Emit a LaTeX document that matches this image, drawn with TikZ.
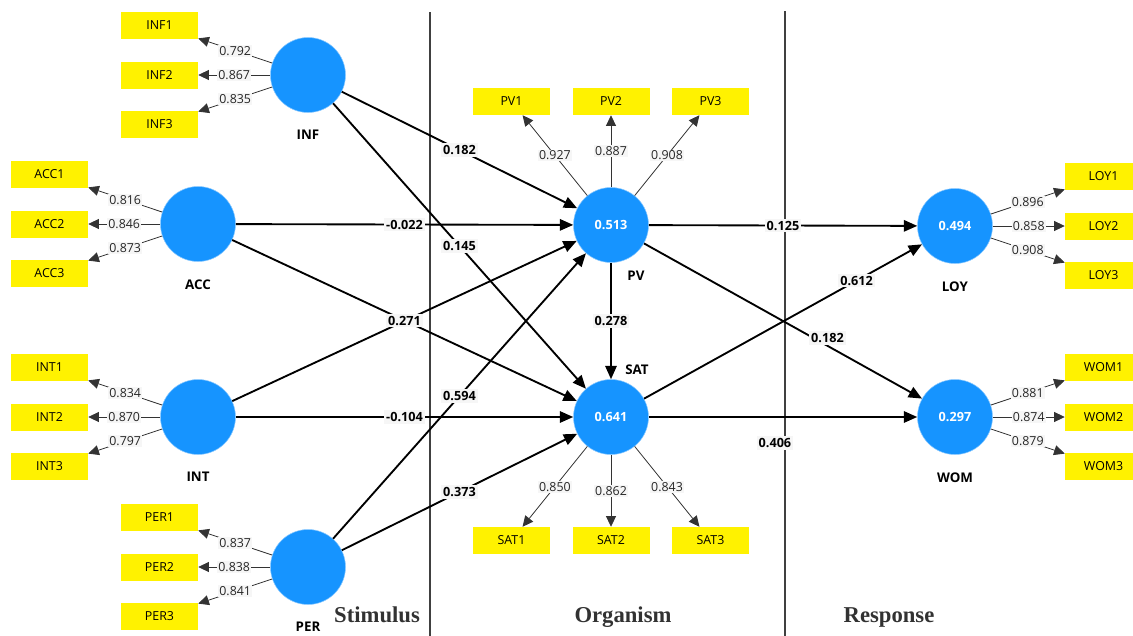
\documentclass[tikz,border=0pt]{standalone}
\usepackage{fontspec}
\setmainfont{Open Sans}
\newfontfamily\titlefont{Liberation Serif}
\usetikzlibrary{positioning,arrows.meta}
\definecolor{lvblue}{RGB}{22,148,255}
\definecolor{lblgray}{RGB}{246,246,246}
\definecolor{titlegray}{RGB}{50,50,50}

\begin{document}
\begin{tikzpicture}[x=0.75pt, y=-0.75pt, node distance=54pt,
	lv/.style = {circle, fill=lvblue, draw=lvblue!50!white, minimum size=56.25pt, inner sep=0pt, text=white, font=\bfseries\fontsize{9.5}{11}\selectfont},
	ind/.style = {fill=yellow, minimum width=57.75pt, minimum height=20.25pt, inner sep=0pt, font=\fontsize{9.3}{11}\selectfont},
	lvname/.style = {inner sep=0pt, font=\bfseries\fontsize{10}{12}\selectfont},
	coef/.style = {fill=lblgray, inner sep=1.5pt, font=\bfseries\fontsize{9.5}{11}\selectfont},
	lval/.style = {fill=lblgray, inner sep=1pt, text=black!85, font=\fontsize{9.3}{11}\selectfont},
	effect/.style = {line width=1.4pt, -{Triangle[length=10pt, width=8.5pt]}},
	loading/.style = {line width=0.6pt, draw=black!80, -{Triangle[length=8pt, width=7.5pt]}},
	sepline/.style = {line width=1pt, draw=black!75},
	sect/.style = {anchor=base, text=titlegray, font=\titlefont\bfseries\fontsize{17}{20}\selectfont}]
	\useasboundingbox (0,0) rectangle (1133,636);
	\clip (0,0) rectangle (1133,636);

	%% Stages
	\draw[sepline] (430,12) -- (430,636);
	\draw[sepline] (785,11) -- (785,636);
	\node[sect] (stim) at (377,622) {Stimulus};
	\node[sect] (orga) at (623,622) {Organism};
	\node[sect] (resp) at (889,622) {Response};

	%% Nodes
	\node[lv] (INF) at (308,75) {};
	\node[lv] (ACC) at (198,224) {};
	\node[lv] (INT) at (198,417) {};
	\node[lv] (PER) at (308,567) {};
	\node[lv] (PV) at (611,225) {0.513};
	\node[lv] (SAT) at (611,417) {0.641};
	\node[lv] (LOY) at (955,226) {0.494};
	\node[lv] (WOM) at (955,417) {0.297};

	\node[lvname][below=13pt of INF] (INFn) {INF};
	\node[lvname][below=13pt of ACC] (ACCn) {ACC};
	\node[lvname][below=13pt of INT] (INTn) {INT};
	\node[lvname][below=13pt of PER] (PERn) {PER};
	\node[lvname][below=13pt of LOY] (LOYn) {LOY};
	\node[lvname][below=13pt of WOM] (WOMn) {WOM};
	\node[lvname] (PVn) at (636,276) {PV};
	\node[lvname] (SATn) at (637,370) {SAT};

	\node[ind][left=of INF] (INF2) {INF2};
	\node[ind][above=16.5pt of INF2] (INF1) {INF1};
	\node[ind][below=16.5pt of INF2] (INF3) {INF3};

	\node[ind][left=of ACC] (ACC2) {ACC2};
	\node[ind][above=16.5pt of ACC2] (ACC1) {ACC1};
	\node[ind][below=16.5pt of ACC2] (ACC3) {ACC3};

	\node[ind][left=of INT] (INT2) {INT2};
	\node[ind][above=16.5pt of INT2] (INT1) {INT1};
	\node[ind][below=16.5pt of INT2] (INT3) {INT3};

	\node[ind][left=of PER] (PER2) {PER2};
	\node[ind][above=16.5pt of PER2] (PER1) {PER1};
	\node[ind][below=16.5pt of PER2] (PER3) {PER3};

	\node[ind][above=of PV] (PV2) {PV2};
	\node[ind][left=16.5pt of PV2] (PV1) {PV1};
	\node[ind][right=16.5pt of PV2] (PV3) {PV3};

	\node[ind][below=of SAT] (SAT2) {SAT2};
	\node[ind][left=16.5pt of SAT2] (SAT1) {SAT1};
	\node[ind][right=16.5pt of SAT2] (SAT3) {SAT3};

	\node[ind][right=of LOY] (LOY2) {LOY2};
	\node[ind][above=16.5pt of LOY2] (LOY1) {LOY1};
	\node[ind][below=16.5pt of LOY2] (LOY3) {LOY3};

	\node[ind][right=of WOM] (WOM2) {WOM2};
	\node[ind][above=16.5pt of WOM2] (WOM1) {WOM1};
	\node[ind][below=16.5pt of WOM2] (WOM3) {WOM3};

	%% Loadings
	\draw[loading] (INF) -- node[lval] {0.792} (INF1);
	\draw[loading] (INF) -- node[lval] {0.867} (INF2);
	\draw[loading] (INF) -- node[lval] {0.835} (INF3);
	\draw[loading] (ACC) -- node[lval] {0.816} (ACC1);
	\draw[loading] (ACC) -- node[lval] {0.846} (ACC2);
	\draw[loading] (ACC) -- node[lval] {0.873} (ACC3);
	\draw[loading] (INT) -- node[lval] {0.834} (INT1);
	\draw[loading] (INT) -- node[lval] {0.870} (INT2);
	\draw[loading] (INT) -- node[lval] {0.797} (INT3);
	\draw[loading] (PER) -- node[lval] {0.837} (PER1);
	\draw[loading] (PER) -- node[lval] {0.838} (PER2);
	\draw[loading] (PER) -- node[lval] {0.841} (PER3);
	\draw[loading] (PV) -- node[lval] {0.927} (PV1);
	\draw[loading] (PV) -- node[lval] {0.887} (PV2);
	\draw[loading] (PV) -- node[lval] {0.908} (PV3);
	\draw[loading] (SAT) -- node[lval] {0.850} (SAT1);
	\draw[loading] (SAT) -- node[lval] {0.862} (SAT2);
	\draw[loading] (SAT) -- node[lval] {0.843} (SAT3);
	\draw[loading] (LOY) -- node[lval] {0.896} (LOY1);
	\draw[loading] (LOY) -- node[lval] {0.858} (LOY2);
	\draw[loading] (LOY) -- node[lval] {0.908} (LOY3);
	\draw[loading] (WOM) -- node[lval] {0.881} (WOM1);
	\draw[loading] (WOM) -- node[lval] {0.874} (WOM2);
	\draw[loading] (WOM) -- node[lval] {0.879} (WOM3);

	%% Paths
	\draw[effect] (INT) -- (PV);
	\draw[effect] (INF) -- node[coef] {0.182} (PV);
	\draw[effect] (INF) -- node[coef] {0.145} (SAT);
	\draw[effect] (ACC) -- node[coef] {-0.022} (PV);
	\draw[effect] (ACC) -- node[coef] {0.271} (SAT);
	\draw[effect] (INT) -- node[coef] {-0.104} (SAT);
	\draw[effect] (PER) -- node[coef] {0.594} (PV);
	\draw[effect] (PER) -- node[coef] {0.373} (SAT);
	\draw[effect] (PV) -- node[coef] {0.278} (SAT);
	\draw[effect] (PV) -- node[coef] {0.125} (LOY);
	\draw[effect] (SAT) -- node[coef, pos=0.765] {0.612} (LOY);
	\draw[effect] (PV) -- node[coef, pos=0.66, yshift=6pt] {0.182} (WOM);
	\draw[effect] (SAT) -- node[coef, pos=0.47, yshift=-19.5pt] {0.406} (WOM);
\end{tikzpicture}
\end{document}
